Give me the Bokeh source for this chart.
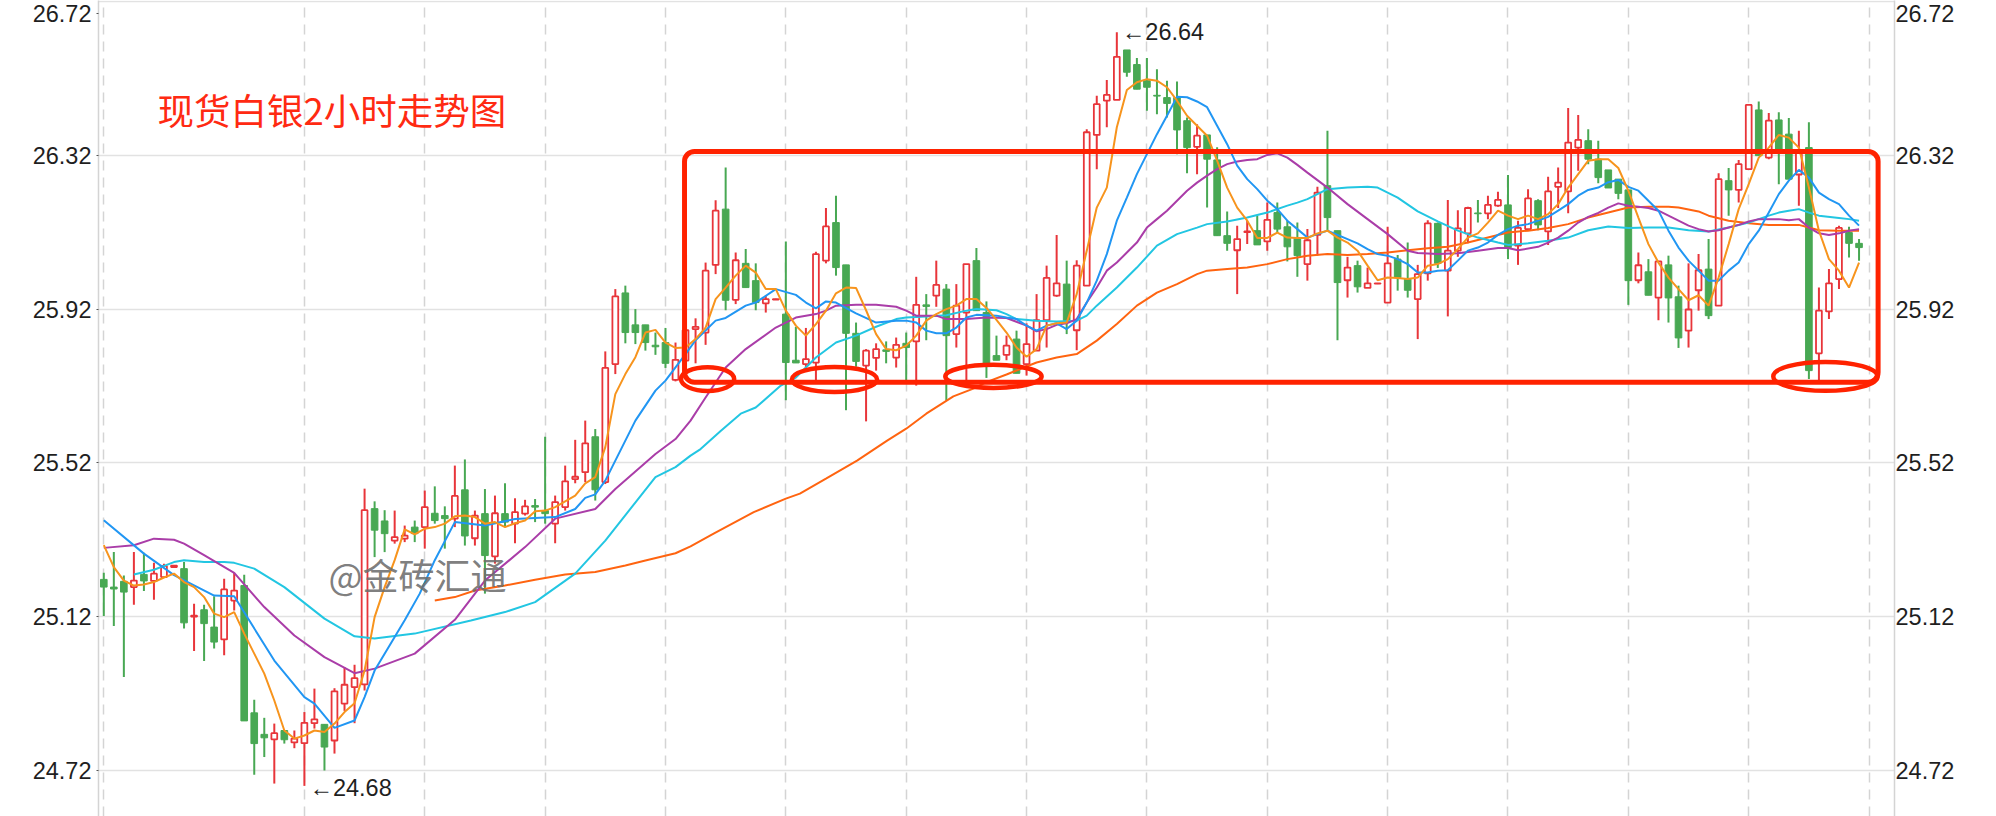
from bokeh.plotting import figure
from bokeh.models import (ColumnDataSource, LinearAxis, FixedTicker, Grid, Range1d,
                          BoxAnnotation, Label)
from bokeh.core.properties import value
from bokeh.embed import file_html
from bokeh.resources import INLINE

# ---------------- data ----------------
opens = [25.217, 25.197, 25.212, 25.197, 25.230, 25.213, 25.223, 25.249, 25.245, 25.120,
         25.138, 25.093, 25.061, 25.162, 25.201, 24.870, 24.814, 24.801, 24.824, 24.793,
         24.791, 24.843, 24.840, 24.798, 24.894, 24.937, 24.944, 25.401, 25.369, 25.318,
         25.323, 25.353, 25.353, 25.389, 25.383, 25.375, 25.450, 25.324, 25.388, 25.277,
         25.388, 25.362, 25.388, 25.409, 25.396, 25.362, 25.405, 25.478, 25.496, 25.588,
         25.470, 25.777, 25.962, 25.879, 25.879, 25.826, 25.833, 25.736, 25.786, 25.868,
         25.859, 26.035, 26.180, 25.944, 26.039, 25.994, 25.935, 25.945, 25.907, 25.787,
         25.777, 25.781, 26.046, 26.145, 26.035, 25.857, 25.773, 25.793, 25.814, 25.794,
         25.831, 25.836, 25.931, 25.955, 25.972, 25.855, 25.911, 26.046, 25.911, 25.799,
         25.801, 25.842, 25.777, 25.812, 25.891, 25.955, 25.985, 25.865, 25.981, 26.373,
         26.462, 26.464, 26.594, 26.556, 26.514, 26.476, 26.470, 26.470, 26.410, 26.342,
         26.373, 26.308, 26.111, 26.073, 26.120, 26.124, 26.096, 26.171, 26.134, 26.105,
         26.037, 26.113, 26.241, 26.124, 25.995, 26.033, 25.975, 25.986, 25.937, 26.050,
         25.998, 25.946, 26.013, 26.143, 26.020, 26.072, 26.117, 26.170, 26.169, 26.189,
         26.191, 26.085, 26.128, 26.202, 26.122, 26.238, 26.226, 26.340, 26.358, 26.310,
         26.282, 26.258, 26.230, 25.995, 26.017, 25.950, 26.035, 25.952, 25.864, 25.969,
         26.024, 25.929, 26.254, 26.230, 26.284, 26.438, 26.314, 26.412, 26.375, 26.270,
         26.340, 25.805, 25.914, 25.998, 26.119, 26.091]
highs = [25.234, 25.288, 25.227, 25.288, 25.286, 25.260, 25.258, 25.254, 25.262, 25.154,
         25.151, 25.173, 25.219, 25.234, 25.229, 24.904, 24.857, 24.842, 24.824, 24.824,
         24.872, 24.933, 24.840, 24.934, 24.989, 24.995, 25.453, 25.420, 25.397, 25.396,
         25.357, 25.370, 25.448, 25.459, 25.407, 25.513, 25.529, 25.396, 25.452, 25.435,
         25.467, 25.428, 25.424, 25.426, 25.588, 25.435, 25.513, 25.580, 25.630, 25.608,
         25.810, 25.972, 25.981, 25.920, 25.879, 25.859, 25.871, 25.833, 25.880, 25.896,
         26.041, 26.203, 26.288, 26.067, 26.076, 26.039, 25.955, 25.947, 26.096, 25.874,
         25.871, 26.069, 26.183, 26.215, 26.035, 25.885, 25.816, 25.831, 25.836, 25.846,
         25.859, 26.004, 25.959, 26.046, 25.985, 25.985, 26.037, 26.079, 25.940, 25.851,
         25.851, 25.864, 25.883, 25.959, 26.033, 26.113, 26.046, 26.047, 26.388, 26.475,
         26.516, 26.640, 26.594, 26.573, 26.573, 26.544, 26.514, 26.512, 26.418, 26.401,
         26.373, 26.341, 26.174, 26.137, 26.150, 26.163, 26.197, 26.197, 26.150, 26.145,
         26.128, 26.238, 26.384, 26.124, 26.056, 26.046, 26.028, 25.988, 26.134, 26.061,
         26.093, 26.035, 26.151, 26.145, 26.204, 26.177, 26.186, 26.204, 26.215, 26.225,
         26.269, 26.150, 26.232, 26.206, 26.264, 26.288, 26.443, 26.425, 26.388, 26.358,
         26.282, 26.258, 26.230, 26.067, 26.050, 26.044, 26.059, 25.981, 26.039, 26.063,
         26.102, 26.273, 26.287, 26.308, 26.451, 26.460, 26.430, 26.432, 26.417, 26.384,
         26.406, 25.976, 26.024, 26.137, 26.134, 26.102]
lows = [25.122, 25.096, 24.963, 25.151, 25.187, 25.164, 25.223, 25.248, 25.089, 25.031,
        25.005, 25.037, 25.020, 25.136, 24.849, 24.709, 24.755, 24.686, 24.790, 24.778,
        24.680, 24.829, 24.720, 24.764, 24.875, 24.843, 24.928, 25.275, 25.288, 25.310,
        25.314, 25.314, 25.297, 25.362, 25.297, 25.353, 25.305, 25.305, 25.180, 25.258,
        25.353, 25.311, 25.383, 25.366, 25.362, 25.311, 25.396, 25.467, 25.470, 25.422,
        25.465, 25.751, 25.831, 25.829, 25.812, 25.801, 25.767, 25.732, 25.770, 25.779,
        25.827, 26.011, 25.917, 25.933, 25.976, 25.917, 25.911, 25.944, 25.683, 25.780,
        25.758, 25.734, 26.039, 26.007, 25.657, 25.770, 25.628, 25.760, 25.779, 25.768,
        25.734, 25.721, 25.839, 25.926, 25.682, 25.820, 25.734, 25.916, 25.741, 25.787,
        25.787, 25.753, 25.747, 25.812, 25.820, 25.952, 25.855, 25.813, 25.981, 26.284,
        26.393, 26.464, 26.524, 26.492, 26.436, 26.427, 26.418, 26.323, 26.273, 26.271,
        26.184, 26.111, 26.072, 25.959, 26.089, 26.087, 26.072, 26.119, 26.044, 26.004,
        25.994, 26.059, 26.124, 25.839, 25.950, 25.963, 25.975, 25.985, 25.937, 25.968,
        25.950, 25.842, 25.994, 26.027, 25.901, 26.056, 26.091, 26.145, 26.154, 26.186,
        26.050, 26.035, 26.124, 26.125, 26.087, 26.183, 26.169, 26.280, 26.297, 26.247,
        26.235, 26.206, 25.931, 25.987, 25.956, 25.891, 25.885, 25.819, 25.820, 25.916,
        25.894, 25.929, 26.163, 26.197, 26.284, 26.319, 26.310, 26.245, 26.258, 26.189,
        25.738, 25.734, 25.894, 25.972, 26.054, 26.046]
closes = [25.197, 25.192, 25.184, 25.214, 25.213, 25.232, 25.252, 25.253, 25.104, 25.123,
          25.102, 25.054, 25.191, 25.188, 24.849, 24.790, 24.805, 24.817, 24.800, 24.803,
          24.844, 24.853, 24.781, 24.926, 24.943, 24.960, 25.397, 25.345, 25.336, 25.327,
          25.331, 25.336, 25.405, 25.370, 25.375, 25.434, 25.330, 25.383, 25.279, 25.389,
          25.366, 25.392, 25.407, 25.405, 25.388, 25.418, 25.472, 25.484, 25.571, 25.450,
          25.767, 25.953, 25.859, 25.859, 25.833, 25.822, 25.779, 25.788, 25.865, 25.874,
          26.020, 26.176, 25.943, 26.047, 25.976, 25.937, 25.946, 25.946, 25.781, 25.780,
          25.790, 26.063, 26.135, 26.028, 25.857, 25.784, 25.812, 25.816, 25.810, 25.827,
          25.820, 25.931, 25.927, 25.983, 25.851, 25.929, 26.037, 25.916, 25.777, 25.787,
          25.825, 25.753, 25.829, 25.891, 26.001, 25.987, 25.890, 26.033, 26.380, 26.453,
          26.477, 26.576, 26.536, 26.492, 26.497, 26.474, 26.455, 26.386, 26.340, 26.371,
          26.310, 26.111, 26.091, 26.102, 26.122, 26.087, 26.152, 26.128, 26.082, 26.059,
          26.099, 26.223, 26.158, 25.989, 26.028, 25.978, 25.987, 25.987, 26.039, 26.002,
          25.969, 26.011, 26.143, 26.039, 26.072, 26.130, 26.183, 26.168, 26.191, 26.204,
          26.080, 26.131, 26.208, 26.139, 26.226, 26.249, 26.353, 26.360, 26.310, 26.262,
          26.235, 26.221, 25.994, 26.034, 25.956, 26.044, 25.949, 25.845, 25.919, 26.021,
          25.903, 26.258, 26.230, 26.297, 26.451, 26.319, 26.410, 26.336, 26.258, 26.330,
          25.760, 25.916, 25.987, 26.131, 26.091, 26.080]

ma5_vals = [25.306, 25.249, 25.214, 25.201, 25.204, 25.210, 25.222, 25.232, 25.210, 25.197,
            25.171, 25.128, 25.119, 25.132, 25.076, 25.024, 24.972, 24.902, 24.824, 24.803,
            24.811, 24.824, 24.820, 24.842, 24.872, 24.895, 24.980, 25.119, 25.197, 25.267,
            25.347, 25.334, 25.349, 25.353, 25.362, 25.381, 25.383, 25.379, 25.362, 25.366,
            25.353, 25.363, 25.370, 25.394, 25.396, 25.405, 25.420, 25.435, 25.467, 25.483,
            25.561, 25.699, 25.751, 25.795, 25.859, 25.866, 25.833, 25.819, 25.820, 25.842,
            25.872, 25.946, 25.976, 26.007, 26.033, 26.015, 25.972, 25.972, 25.916, 25.877,
            25.851, 25.881, 25.916, 25.961, 25.976, 25.975, 25.917, 25.855, 25.816, 25.813,
            25.825, 25.851, 25.890, 25.907, 25.920, 25.929, 25.946, 25.946, 25.923, 25.892,
            25.859, 25.820, 25.796, 25.816, 25.877, 25.883, 25.885, 25.959, 26.072, 26.184,
            26.236, 26.393, 26.490, 26.510, 26.518, 26.514, 26.497, 26.462, 26.423, 26.397,
            26.371, 26.306, 26.236, 26.184, 26.150, 26.105, 26.105, 26.119, 26.106, 26.105,
            26.105, 26.117, 26.124, 26.106, 26.093, 26.072, 26.033, 25.995, 26.002, 26.001,
            25.998, 26.002, 26.033, 26.037, 26.050, 26.076, 26.106, 26.117, 26.145, 26.176,
            26.163, 26.154, 26.163, 26.154, 26.167, 26.193, 26.236, 26.271, 26.306, 26.310,
            26.310, 26.287, 26.228, 26.158, 26.089, 26.041, 26.002, 25.972, 25.943, 25.956,
            25.929, 26.002, 26.089, 26.180, 26.245, 26.314, 26.340, 26.373, 26.366, 26.340,
            26.236, 26.124, 26.050, 26.020, 25.976, 26.041]

ma10_x = [0, 4, 7, 11, 13, 17, 20, 21, 23, 25, 26, 27, 30, 31.5, 33, 35, 38, 41, 45, 47,
          48, 49, 50, 51, 53, 55, 56, 58, 59, 61, 62, 64, 65, 67, 69, 70, 71, 72, 73, 75,
          77, 79, 80, 81, 82, 83, 84, 85, 86, 87, 89] + list(range(90, 176))
ma10_vals = [25.371, 25.284, 25.228, 25.175, 25.173, 25.006, 24.911, 24.894, 24.831, 24.850,
             24.911, 24.980, 25.111, 25.180, 25.267, 25.366, 25.357, 25.374, 25.379, 25.400,
             25.429, 25.438, 25.474, 25.526, 25.630, 25.708, 25.734, 25.803, 25.839, 25.890,
             25.897, 25.929, 25.937, 25.972, 25.957, 25.937, 25.922, 25.940, 25.937, 25.909,
             25.885, 25.890, 25.890, 25.885, 25.864, 25.857, 25.857, 25.872, 25.898, 25.905,
             25.903,
             25.898, 25.894, 25.877, 25.864, 25.877, 25.883, 25.868, 25.890, 25.937, 25.994,
             26.063, 26.150, 26.210, 26.271, 26.323, 26.375, 26.423, 26.472, 26.471, 26.460,
             26.445, 26.397, 26.349, 26.293, 26.258, 26.232, 26.202, 26.180, 26.150, 26.128,
             26.106, 26.115, 26.124, 26.113, 26.102, 26.091, 26.076, 26.063, 26.059, 26.050,
             26.037, 26.015, 26.015, 26.020, 26.021, 26.046, 26.072, 26.080, 26.093, 26.113,
             26.128, 26.137, 26.141, 26.150, 26.160, 26.176, 26.193, 26.215, 26.230, 26.236,
             26.250, 26.256, 26.238, 26.228, 26.202, 26.176, 26.124, 26.080, 26.046, 26.020,
             25.994, 25.994, 26.020, 26.041, 26.089, 26.124, 26.171, 26.219, 26.254, 26.282,
             26.262, 26.223, 26.206, 26.193, 26.163, 26.137]

ma20_x = [0, 3, 5, 7, 8, 10, 13, 16, 19, 22, 25, 27, 31, 35, 38, 42, 45, 49, 51, 55,
          57, 58.5, 60, 62, 64, 67, 69, 71, 72, 73, 75, 77, 79, 80, 81, 83, 84, 86, 88, 90,
          92, 93, 94, 95, 96, 97, 98, 99, 100, 101, 102, 103, 104, 105, 106, 107, 108, 109,
          110, 111, 112, 113, 114, 115, 116, 117, 118, 119, 120, 122, 124, 126, 128, 130,
          131, 133, 135, 137, 139, 140, 141, 143, 144, 145, 146, 147, 148, 149, 150, 151,
          152, 153, 154, 155, 156, 157, 158, 159, 160, 161, 162, 163, 164, 165, 167, 168,
          169, 170, 171, 172, 173, 174, 175]
ma20_vals = [25.299, 25.306, 25.323, 25.320, 25.310, 25.280, 25.234, 25.145, 25.071, 25.015,
             24.973, 24.985, 25.024, 25.112, 25.214, 25.301, 25.375, 25.400, 25.452, 25.543,
             25.582, 25.630, 25.690, 25.768, 25.816, 25.872, 25.898, 25.907, 25.916, 25.929,
             25.931, 25.931, 25.926, 25.916, 25.903, 25.903, 25.894, 25.894, 25.898, 25.897,
             25.877, 25.862, 25.868, 25.879, 25.883, 25.894, 25.937, 25.976, 26.020, 26.041,
             26.067, 26.093, 26.132, 26.154, 26.176, 26.202, 26.228, 26.249,
             26.267, 26.284, 26.297, 26.304, 26.308, 26.310, 26.321, 26.325, 26.314, 26.295,
             26.275, 26.236, 26.193, 26.154, 26.115, 26.072,
             26.066, 26.063, 26.065, 26.072, 26.079, 26.079, 26.073, 26.082, 26.093, 26.106,
             26.124, 26.145, 26.160, 26.170, 26.184, 26.195,
             26.189, 26.186, 26.183, 26.176, 26.163, 26.150, 26.137, 26.128, 26.122, 26.125,
             26.132, 26.139, 26.148, 26.154, 26.154, 26.151,
             26.154, 26.132, 26.117, 26.113, 26.117, 26.124, 26.128]

ma30_x = [3, 5, 7, 8, 10, 12, 13, 15, 18, 22, 25, 27, 31, 36.6, 40, 43, 47, 50, 55, 57,
          58.5, 59.5, 61.5, 63.5, 65, 67.5, 69, 71, 73, 75, 77, 79, 80, 82, 84, 86, 87, 89,
          90, 91, 93, 95, 97, 98, 99, 101, 103, 105, 107, 109, 110, 112, 114, 116, 118, 119,
          120, 122, 124, 126, 127, 129, 131, 133, 135, 137, 139, 140, 142, 144, 146, 148,
          150, 152, 154, 156, 158, 160, 162, 164, 166, 167, 168, 169, 170, 171, 173, 174, 175]
ma30_vals = [25.230, 25.242, 25.262, 25.267, 25.262, 25.262, 25.260, 25.245, 25.197, 25.115,
             25.069, 25.063, 25.076, 25.110, 25.132, 25.158, 25.232, 25.318, 25.483, 25.509,
             25.539, 25.556, 25.603, 25.648, 25.664, 25.721, 25.742, 25.794, 25.833, 25.851,
             25.874, 25.894, 25.898, 25.901, 25.904, 25.916, 25.920, 25.917,
             25.907, 25.894, 25.890, 25.888, 25.890, 25.903, 25.929, 25.976, 26.028, 26.085,
             26.115, 26.132, 26.141, 26.148, 26.158, 26.171, 26.189, 26.197,
             26.206, 26.232, 26.236, 26.238, 26.236, 26.210, 26.174, 26.148, 26.124, 26.106,
             26.093, 26.087, 26.091, 26.098, 26.106, 26.125,
             26.135, 26.131, 26.132, 26.132, 26.125, 26.122, 26.132, 26.145, 26.163, 26.171,
             26.176, 26.180, 26.171, 26.163, 26.157, 26.154, 26.150]

ma60_x = [33, 35, 37, 40, 43, 46, 49, 52, 54, 57, 58.5, 60.8, 64.8, 68, 69.4, 72, 75.1,
          78.1, 80, 82, 84.7, 86.7, 88, 90, 93, 95, 97, 99, 101, 103, 105, 107, 109, 110,
          112, 114, 116, 118, 119, 120, 122, 124, 126, 128, 130, 132, 134, 136, 138, 140,
          142, 144, 146, 148, 150, 152, 154, 156, 157, 159, 160, 162, 164, 166, 169, 170,
          171, 173, 175]
ma60_vals = [25.162, 25.171, 25.188, 25.201, 25.216, 25.230, 25.236, 25.253, 25.266, 25.285,
             25.303, 25.336, 25.392, 25.427, 25.440, 25.479, 25.526,
             25.578, 25.609, 25.648, 25.693, 25.713, 25.730, 25.750, 25.781, 25.794, 25.803,
             25.838, 25.881, 25.929, 25.963, 25.985, 26.011, 26.020,
             26.024, 26.028, 26.037, 26.050, 26.054, 26.059, 26.063, 26.061, 26.063, 26.067,
             26.073, 26.078, 26.082, 26.093, 26.106, 26.119,
             26.124, 26.131, 26.141, 26.158, 26.171, 26.184, 26.186, 26.186, 26.184, 26.174,
             26.163, 26.150, 26.143, 26.139, 26.139, 26.132,
             26.125, 26.124, 26.124]

y_ticks = [24.72, 25.12, 25.52, 25.92, 26.32, 26.72]
day_ticks = [0, 20, 32, 44, 56, 68, 80, 92, 104, 116, 128, 140, 152, 164, 176]
title_text = "现货白银2小时走势图"
watermark_text = "@金砖汇通"
high_idx = 101
low_idx = 20

# hand-drawn annotation shapes (candle index / price coordinates)
box_left, box_right, box_bottom, box_top = 57.9, 176.9, 25.73, 26.33
ell_x = [60.2, 72.85, 88.7, 171.65]
ell_y = [25.738, 25.737, 25.745, 25.745]
ell_w = [5.3, 8.5, 9.6, 10.4]
ell_h = [0.062, 0.065, 0.060, 0.075]

# ---------------- styles ----------------
RED = "#e8353a"
GREEN = "#48a853"
MARK = "#ff2200"
LABEL_FONT = "Liberation Sans"
LABEL_SIZE = "23.5px"
LABEL_COLOR = "#1f1f1f"
W, H = 1996, 816
Y_LO, Y_HI = 24.60036, 26.72260
TOP_LABEL_POS = 26.6875   # the top tick label sits just below the frame edge

p = figure(width=W, height=H, output_backend="svg", toolbar_location=None,
           x_range=Range1d(-0.528, 178.535), y_range=Range1d(Y_LO, Y_HI),
           x_axis_location=None, y_axis_location=None,
           min_border_left=98, min_border_right=102, min_border_top=0, min_border_bottom=0,
           outline_line_color=None, background_fill_color="white", border_fill_color="white")
p.grid.visible = False

vgrid = Grid(dimension=0, ticker=FixedTicker(ticks=day_ticks), grid_line_color="#d4d4d4",
             grid_line_dash="10 7", grid_line_width=1.5)
hgrid = Grid(dimension=1, ticker=FixedTicker(ticks=y_ticks), grid_line_color="#e2e2e2",
             grid_line_width=1.3)
p.add_layout(vgrid)
p.add_layout(hgrid)

axis_ticks = y_ticks[:-1] + [TOP_LABEL_POS]
overrides = {t: f"{t:.2f}" for t in y_ticks[:-1]}
overrides[TOP_LABEL_POS] = f"{y_ticks[-1]:.2f}"
for side in ("left", "right"):
    ax = LinearAxis(ticker=FixedTicker(ticks=axis_ticks), major_label_overrides=overrides)
    ax.axis_line_color = "#d4d4d4"
    ax.axis_line_width = 1.5
    ax.minor_tick_line_color = None
    ax.major_tick_in = 0
    ax.major_tick_out = 2 if side == "left" else 0
    ax.major_tick_line_color = "#555555" if side == "left" else None
    ax.major_label_standoff = 5 if side == "left" else 1
    ax.major_label_text_font = LABEL_FONT
    ax.major_label_text_font_size = LABEL_SIZE
    ax.major_label_text_color = LABEL_COLOR
    p.add_layout(ax, side)

# candles
idx = list(range(len(opens)))
up = [c >= o for o, c in zip(opens, closes)]
wick_src = ColumnDataSource(dict(x=idx, lo=lows, hi=highs,
                                 c=[RED if u else GREEN for u in up]))
p.segment(x0="x", y0="lo", x1="x", y1="hi", color="c", line_width=2, source=wick_src)

up_src = ColumnDataSource(dict(x=[i for i in idx if up[i]],
                               top=[closes[i] for i in idx if up[i]],
                               bot=[opens[i] for i in idx if up[i]]))
dn_src = ColumnDataSource(dict(x=[i for i in idx if not up[i]],
                               top=[opens[i] for i in idx if not up[i]],
                               bot=[closes[i] for i in idx if not up[i]]))
p.vbar(x="x", top="top", bottom="bot", width=0.58, fill_color="white", line_color=RED,
       line_width=1.8, source=up_src)
p.vbar(x="x", top="top", bottom="bot", width=0.66, fill_color=GREEN, line_color=GREEN,
       line_width=1, source=dn_src)

# moving averages
p.line(ma60_x, ma60_vals, color="#ff6410", line_width=2)
p.line(ma30_x, ma30_vals, color="#22c6e2", line_width=2)
p.line(ma20_x, ma20_vals, color="#aa3da8", line_width=2)
p.line(ma10_x, ma10_vals, color="#2196f3", line_width=2)
p.line(idx, ma5_vals, color="#f7941d", line_width=2)

# extreme labels
p.text(x=[high_idx], y=[highs[high_idx]], text=[f"←{highs[high_idx]:.2f}"],
       text_font=value(LABEL_FONT), text_font_size=LABEL_SIZE, text_color=LABEL_COLOR,
       text_baseline="middle", text_align="left", x_offset=5)
p.text(x=[low_idx], y=[lows[low_idx]], text=[f"←{lows[low_idx]:.2f}"],
       text_font=value(LABEL_FONT), text_font_size=LABEL_SIZE, text_color=LABEL_COLOR,
       text_baseline="middle", text_align="left", x_offset=5, y_offset=2)

# title & watermark
p.add_layout(Label(x=5.35, y=26.439, text=title_text, text_baseline="middle",
                   text_font="Noto Sans CJK SC", text_font_size="36.5px", text_color="#ff2a12"))
p.add_layout(Label(x=22.4, y=25.232, text=watermark_text, text_baseline="middle",
                   text_font="Noto Sans CJK SC", text_font_size="36px", text_color="#6e6e6e",
                   text_alpha=0.9))

# hand-drawn red marks
p.add_layout(BoxAnnotation(left=box_left, right=box_right, bottom=box_bottom, top=box_top,
                           fill_alpha=0, line_color=MARK, line_alpha=1, line_width=5,
                           border_radius=10, level="overlay"))
p.ellipse(x=ell_x, y=ell_y, width=ell_w, height=ell_h, fill_color=None,
          line_color=MARK, line_width=4.5)

open("out.html", "w").write(file_html(p, INLINE))
